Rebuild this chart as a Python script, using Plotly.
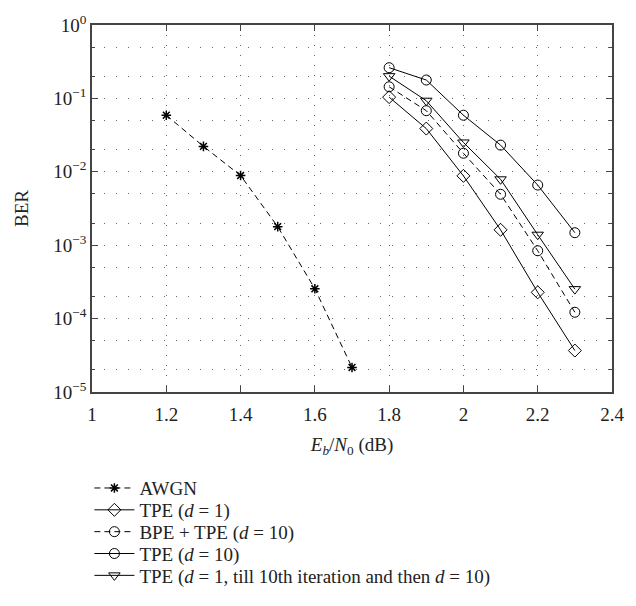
import plotly.graph_objects as go

# Data
x_awgn = [1.2, 1.3, 1.4, 1.5, 1.6, 1.7]
ber_awgn = [0.059, 0.0222, 0.0089, 0.00179, 2.55e-4, 2.16e-5]

x_tpe = [1.8, 1.9, 2.0, 2.1, 2.2, 2.3]
ber_tpe_d1 = [0.104, 0.0388, 0.0088, 0.00162, 2.28e-4, 3.67e-5]
ber_bpe_tpe_d10 = [0.144, 0.068, 0.0179, 0.00494, 8.4e-4, 1.22e-4]
ber_tpe_d10 = [0.262, 0.178, 0.059, 0.0231, 0.0066, 0.00148]
ber_tpe_switch = [0.201, 0.093, 0.0251, 0.0079, 0.00139, 2.52e-4]

names = [
    "AWGN",
    "TPE (<i>d</i> = 1)",
    "BPE + TPE (<i>d</i> = 10)",
    "TPE (<i>d</i> = 10)",
    "TPE (<i>d</i> = 1, till 10th iteration and then <i>d</i> = 10)",
]

y_tickvals = [1, 0.1, 0.01, 0.001, 1e-4, 1e-5]
y_ticktext = ["10<sup>0</sup>", "10<sup>\u22121</sup>", "10<sup>\u22122</sup>",
              "10<sup>\u22123</sup>", "10<sup>\u22124</sup>", "10<sup>\u22125</sup>"]

FONT = "Liberation Serif, Times New Roman, serif"
FS = 19
dash = "6px,4px"

# plot area geometry (pixels) used to place the stacked legend rows
PLOT_TOP, PLOT_BOTTOM = 14, 392
legend_row_px = [491, 513.5, 536, 558.5, 581]

fig = go.Figure()
fig.add_trace(go.Scatter(x=x_awgn, y=ber_awgn, name=names[0], mode="lines+markers",
                         line=dict(color="black", width=1, dash=dash), legend="legend",
                         marker=dict(symbol="asterisk-open", size=8, color="black",
                                     line=dict(width=1.5, color="black"))))
fig.add_trace(go.Scatter(x=x_tpe, y=ber_tpe_d1, name=names[1], mode="lines+markers",
                         line=dict(color="black", width=1), legend="legend2",
                         marker=dict(symbol="diamond-open", size=10, color="black",
                                     line=dict(width=1, color="black"))))
fig.add_trace(go.Scatter(x=x_tpe, y=ber_bpe_tpe_d10, name=names[2], mode="lines+markers",
                         line=dict(color="black", width=1, dash=dash), legend="legend3",
                         marker=dict(symbol="circle-open", size=10, color="black",
                                     line=dict(width=1, color="black"))))
fig.add_trace(go.Scatter(x=x_tpe, y=ber_tpe_d10, name=names[3], mode="lines+markers",
                         line=dict(color="black", width=1), legend="legend4",
                         marker=dict(symbol="circle-open", size=10, color="black",
                                     line=dict(width=1, color="black"))))
fig.add_trace(go.Scatter(x=x_tpe, y=ber_tpe_switch, name=names[4], mode="lines+markers",
                         line=dict(color="black", width=1), legend="legend5",
                         marker=dict(symbol="triangle-down-open", size=10, color="black",
                                     line=dict(width=1, color="black"))))

plot_h = PLOT_BOTTOM - PLOT_TOP
legends = {}
for i, py in enumerate(legend_row_px):
    key = "legend" if i == 0 else f"legend{i + 1}"
    legends[key] = dict(x=-0.005, y=(PLOT_BOTTOM - py) / plot_h, xanchor="left", yanchor="middle",
                        bgcolor="rgba(0,0,0,0)", borderwidth=0,
                        font=dict(family=FONT, size=FS, color="#222"), itemwidth=40)

fig.update_layout(
    width=636, height=606,
    margin=dict(l=92, r=14, t=14, b=214),
    paper_bgcolor="white", plot_bgcolor="white",
    font=dict(family=FONT, size=FS, color="#222"),
    showlegend=True,
    **legends,
)
fig.update_xaxes(
    range=[1, 2.4], dtick=0.2, tick0=1,
    showline=True, linecolor="#444", linewidth=1.5, mirror="ticks",
    ticks="inside", ticklen=6, tickcolor="#444", ticklabelstandoff=4,
    showgrid=True, gridcolor="#666", gridwidth=1, griddash="1px,9px",
    zeroline=False,
    title=dict(text="<i>E<sub>b</sub></i>/<i>N</i><sub>0</sub> (dB)", standoff=14,
               font=dict(family=FONT, size=FS, color="#222")),
)
fig.update_yaxes(
    type="log", range=[-5, 0],
    tickvals=y_tickvals, ticktext=y_ticktext,
    showline=True, linecolor="#444", linewidth=1.5, mirror="ticks",
    ticks="inside", ticklen=6, tickcolor="#444",
    showgrid=True, gridcolor="#666", gridwidth=1, griddash="1px,11px",
    minor=dict(ticks="inside", ticklen=3, tickcolor="#444", showgrid=True,
               gridcolor="#666", gridwidth=1, griddash="1px,11px"),
    zeroline=False,
    title=dict(text="BER", standoff=20, font=dict(family=FONT, size=FS, color="#222")),
)

fig.write_html("out.html", config={"displayModeBar": False},
               post_script="document.body.style.margin='0';")
